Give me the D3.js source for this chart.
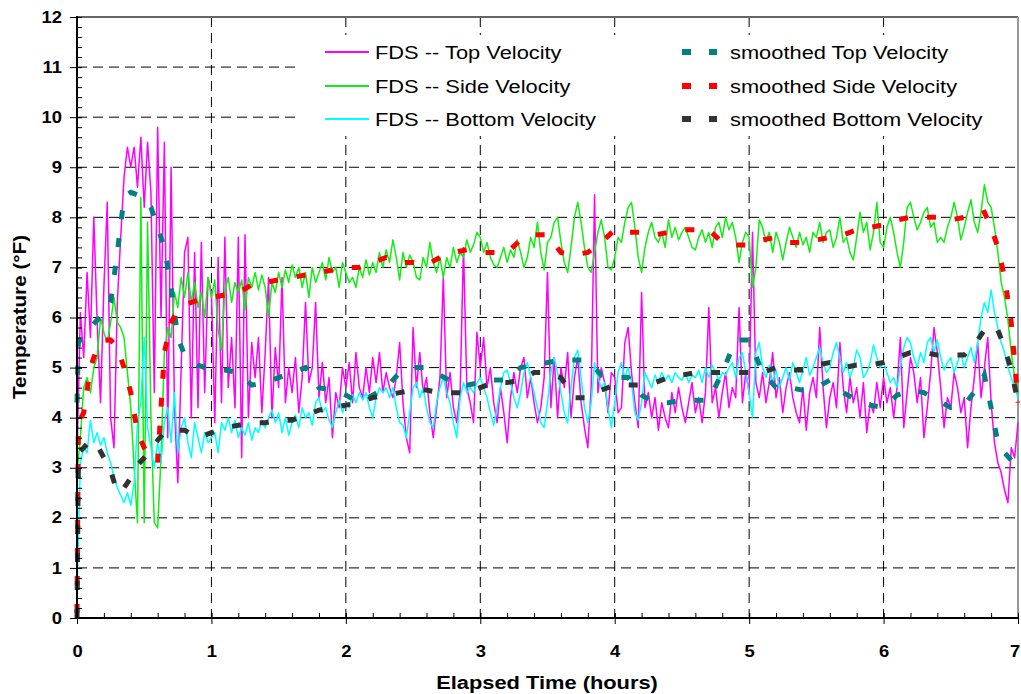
<!DOCTYPE html>
<html>
<head>
<meta charset="utf-8">
<script src="https://cdn.jsdelivr.net/npm/d3@7"></script>
<style>
  body { margin: 0; background: #fff; }
  svg { display: block; font-family: "Liberation Sans", Arial, sans-serif; }
</style>
</head>
<body>
<div id="chart"></div>
<script>
// FDS samples, one every 0.025 h from 0 to 7 h (rows = half hours)
const sampleStep = 0.025;

const topVelocity = [
  3.2, 6.1, 5.2, 6.9, 5.6, 8.0, 5.9, 4.3, 6.6, 8.3, 4.0, 3.4, 6.3, 7.6, 8.8, 9.4, 9.0, 9.4, 8.6, 9.6,
  8.2, 9.5, 8.5, 4.5, 9.8, 6.0, 9.5, 3.6, 9.0, 4.2, 2.7, 5.0, 7.3, 7.6, 4.0, 7.3, 4.2, 7.5, 4.5, 6.8,
  6.5, 3.9, 7.2, 4.3, 7.6, 4.6, 5.6, 4.2, 7.6, 3.2, 7.65, 4.0, 5.5, 4.8, 5.6, 4.1, 5.3, 6.8, 4.0, 5.4,
  4.6, 6.8, 4.3, 5.0, 4.5, 5.2, 4.1, 4.8, 6.3, 4.7, 5.0, 6.3, 4.4, 5.1, 4.3, 4.8, 3.6, 4.5, 4.2, 5.0,
  4.6, 5.1, 4.3, 5.3, 4.6, 4.4, 5.0, 4.5, 5.2, 4.7, 5.3, 4.5, 4.9, 4.6, 4.4, 4.8, 5.5, 4.3, 3.6, 3.3,
  5.8, 4.6, 5.3, 4.5, 4.8, 4.1, 3.6, 4.2, 4.8, 6.8, 4.4, 4.9, 4.2, 3.9, 4.5, 7.4, 4.6, 4.3, 3.9, 5.7,
  5.0, 5.6, 4.6, 5.0, 4.3, 3.9, 4.6, 4.1, 3.5, 4.4, 4.9, 4.5, 5.0, 5.2, 4.4, 4.8, 4.3, 3.9, 4.2, 4.8,
  6.9, 4.2, 5.2, 4.0, 5.0, 4.6, 5.3, 4.0, 4.8, 5.2, 4.3, 3.8, 3.4, 4.6, 8.45, 4.5, 5.0, 4.7, 4.1, 4.9,
  4.8, 4.1, 4.2, 5.5, 5.8, 4.9, 4.3, 3.8, 6.5, 4.2, 4.5, 4.0, 4.4, 3.75, 4.3, 4.0, 3.8, 4.5, 4.1, 4.6,
  4.2, 3.9, 4.3, 4.7, 4.1, 4.4, 3.9, 4.5, 6.2, 4.3, 4.6, 4.0, 4.5, 4.9, 4.2, 4.6, 4.4, 6.2, 4.3, 4.9,
  4.5, 7.7, 4.7, 4.4, 4.9, 4.3, 4.7, 5.3, 4.4, 4.8, 4.1, 4.6, 4.9, 4.4, 4.1, 3.9, 4.6, 3.75, 4.5, 4.8,
  4.4, 5.8, 4.6, 3.8, 4.4, 4.7, 4.2, 5.5, 4.6, 4.1, 4.8, 4.3, 4.6, 4.0, 4.7, 3.7, 4.3, 4.1, 4.7, 4.2,
  4.8, 4.3, 4.6, 4.0, 4.6, 5.6, 3.8, 4.5, 5.2, 4.9, 4.3, 4.8, 3.6, 4.2, 4.9, 5.8, 5.3, 4.6, 3.8, 4.4,
  4.2, 4.9, 4.6, 4.1, 4.4, 3.4, 4.2, 4.8, 5.5, 4.4, 5.0, 5.6, 4.3, 3.5, 3.1, 2.9, 2.55, 2.3, 3.4, 3.2, 3.9
];

const sideVelocity = [
  2.9, 3.6, 4.6, 4.8, 4.5, 5.0, 5.2, 6.0, 5.7, 5.5, 5.9, 6.4, 5.9, 5.8, 5.6, 4.9, 4.2, 3.0, 1.9, 8.4,
  1.9, 7.9, 4.0, 1.9, 1.8, 3.2, 5.3, 5.8, 5.6, 6.5, 6.2, 6.8, 6.4, 6.9, 6.3, 6.7, 6.2, 6.5, 6.0, 6.8,
  6.4, 6.75, 5.75, 5.35, 6.55, 6.8, 6.3, 6.7, 6.5, 6.75, 6.15, 6.8, 6.6, 6.9, 6.55, 6.85, 6.6, 6.0, 6.7, 6.5,
  6.9, 6.6, 6.95, 6.7, 7.05, 6.8, 7.0, 6.6, 6.9, 6.4, 7.0, 6.7, 6.9, 7.1, 6.75, 7.2, 6.9, 7.0, 6.6, 7.1,
  6.9, 6.7, 6.8, 6.6, 7.0, 6.8, 7.15, 6.85, 7.1, 6.9, 7.3, 7.0, 7.35, 7.1, 7.55, 7.2, 6.75, 7.3, 7.0, 7.25,
  7.1, 6.8, 6.75, 7.2, 7.0, 7.5, 7.1, 6.9, 7.2, 6.8, 7.2, 7.0, 7.4, 7.1, 7.3, 7.2, 7.55, 7.3, 7.45, 7.7,
  7.6, 7.3, 7.5, 7.2, 7.05, 7.0, 7.2, 7.4, 7.1, 7.35, 7.2, 7.55, 7.3, 7.0, 7.2, 7.6, 7.4, 7.9, 7.3, 6.95,
  7.5, 7.6, 7.9, 8.0, 7.5, 7.1, 6.9, 7.4, 8.0, 8.3, 7.9, 7.4, 7.0, 6.9, 7.3, 7.7, 7.95, 7.6, 7.0, 6.95,
  7.2, 7.6, 7.5, 7.9, 8.2, 8.3, 7.8, 7.2, 6.9, 7.4, 7.7, 7.9, 7.6, 7.5, 7.7, 7.4, 7.95, 7.6, 7.8, 7.55,
  7.7, 7.8, 7.6, 7.4, 7.35, 7.6, 7.75, 7.5, 7.7, 7.4, 7.8, 7.9, 7.6, 8.0, 7.75, 7.9, 7.6, 7.1, 7.5, 7.7,
  7.6, 6.6, 7.0, 7.95, 7.8, 7.5, 7.7, 7.3, 7.7, 7.5, 7.15, 7.5, 7.8, 7.6, 7.4, 7.7, 7.45, 7.6, 7.3, 7.7,
  7.6, 7.9, 7.5, 7.7, 7.75, 7.4, 7.6, 8.0, 7.5, 7.6, 7.3, 7.15, 7.6, 8.1, 7.7, 7.9, 7.35, 7.7, 8.3, 7.5,
  7.4, 7.8, 8.0, 7.7, 7.3, 7.0, 7.5, 8.2, 8.3, 8.0, 7.75, 7.9, 8.1, 8.2, 7.8, 7.9, 7.5, 7.6, 7.5, 7.8,
  8.0, 8.3, 8.0, 7.55, 7.8, 8.1, 8.35, 7.9, 7.7, 8.1, 8.65, 8.3, 8.2, 7.8, 7.3, 6.7, 6.4, 5.95, 5.3, 4.8, 4.5
];

const bottomVelocity = [
  0.5, 3.1, 3.4, 3.3, 3.95, 3.5, 3.7, 3.45, 3.6, 3.3, 3.1, 2.8, 2.6, 2.45, 2.3, 2.5, 2.25, 2.7, 3.9, 4.3,
  5.6, 3.8, 3.4, 3.0, 3.5, 3.1, 3.9, 4.2, 3.5, 4.5, 3.3, 3.8, 4.0, 3.5, 3.2, 3.9, 3.6, 3.3, 3.7, 3.5,
  3.6, 3.7, 3.3, 3.9, 3.75, 4.0, 3.7, 3.95, 3.6, 3.8, 3.65, 3.9, 3.55, 3.8, 3.7, 3.95, 3.8, 4.0, 4.15, 3.9,
  4.1, 3.7, 4.0, 3.65, 3.9, 4.05, 3.8, 4.2, 4.0, 4.1, 3.85, 4.3, 4.4, 4.1, 4.2, 3.95, 3.8, 4.1, 4.35, 4.1,
  4.3, 4.2, 4.45, 4.3, 4.5, 4.35, 4.5, 4.2, 4.0, 4.4, 4.6, 4.5, 4.6, 4.4, 4.6, 4.2, 3.9, 3.85, 3.6, 4.1,
  4.6, 4.7, 4.4, 4.6, 4.2, 3.9, 3.8, 4.3, 4.6, 4.8, 4.5, 4.3, 3.9, 3.6, 4.4, 4.7, 4.5, 4.6, 4.5, 4.7,
  4.8, 4.6, 4.4, 4.1, 3.85, 4.2, 4.6, 4.9, 4.95, 4.7, 4.4, 4.2, 4.5, 4.9, 5.1, 4.8, 4.5, 4.2, 3.9, 3.8,
  4.3, 4.9, 5.2, 4.9, 4.5, 4.1, 3.9, 4.6, 5.2, 5.35, 4.8, 4.2, 3.9, 4.3, 5.1, 4.8, 4.6, 4.7, 4.2, 3.8,
  4.3, 4.9, 5.1, 4.8, 5.0, 4.7, 4.1, 3.95, 4.3, 4.9, 4.75, 4.6, 4.85, 4.7, 4.9, 4.75, 4.85, 4.7, 4.9, 4.8,
  4.75, 4.9, 4.7, 4.85, 4.8, 4.95, 4.7, 5.0, 4.8, 5.05, 4.9, 4.75, 4.9, 4.85, 5.0, 5.1, 4.8, 5.2, 5.3, 4.9,
  4.5, 4.0, 5.3, 5.5, 5.0, 4.8, 5.05, 4.7, 4.95, 4.6, 4.8, 5.0, 4.75, 5.1, 4.9, 4.7, 4.95, 5.2, 4.85, 5.0,
  5.2, 5.4, 5.1, 4.9, 5.0, 5.3, 5.5, 5.2, 4.9, 5.1, 4.8, 5.0, 5.35, 5.2, 4.8, 4.9, 5.1, 5.45, 5.2, 5.0,
  5.1, 4.9, 4.7, 4.8, 4.6, 5.0, 5.4, 5.6, 5.5, 5.2, 5.0, 5.3, 5.1, 5.5, 5.6, 5.3, 5.55, 5.2, 4.95, 5.1,
  5.2, 4.9, 5.1, 5.3, 5.0, 5.2, 5.4, 5.1, 5.5, 6.0, 6.3, 6.1, 6.55, 6.1, 5.8, 5.5, 5.3, 5.0, 4.8, 4.6, 4.4
];

// smoothed curves
const smoothTimes = [
  0, 0.01, 0.05, 0.1, 0.15, 0.2, 0.25, 0.3, 0.35, 0.4, 0.45, 0.5, 0.55, 0.6, 0.65, 0.7, 0.75, 0.8,
  0.9, 1.0, 1.1, 1.2, 1.3, 1.4, 1.5, 1.6, 1.7, 1.8,
  1.9, 2.0, 2.1, 2.2, 2.3, 2.4, 2.5, 2.6, 2.7, 2.8,
  2.9, 3.0, 3.1, 3.2, 3.3, 3.4, 3.5, 3.6, 3.7, 3.8,
  3.9, 4.0, 4.1, 4.2, 4.3, 4.4, 4.5, 4.6, 4.7, 4.8,
  4.9, 5.0, 5.1, 5.2, 5.3, 5.4, 5.5, 5.6, 5.7, 5.8,
  5.9, 6.0, 6.1, 6.2, 6.3, 6.4, 6.5, 6.6, 6.7,
  6.75, 6.8, 6.85, 6.9, 6.95, 7.0
];
const smoothTop = [
  4.3, 5.5, 5.65, 5.8, 5.95, 6.05, 6.3, 7.3, 8.4, 8.5, 8.45, 8.3, 8.2, 7.8, 7.4, 6.6, 5.6, 5.25,
  5.05, 4.95, 4.95, 4.9, 4.65, 4.7, 4.8, 4.9, 5.0, 4.6,
  4.55, 4.45, 4.3, 4.45, 4.6, 4.9, 5.0, 5.0, 4.85, 4.7,
  4.65, 4.7, 4.75, 4.75, 5.0, 5.05, 5.1, 5.15, 5.15, 5.15,
  4.85, 4.8, 4.8, 4.45, 4.3, 4.3, 4.35, 4.35, 4.35, 4.9,
  5.55, 5.55, 4.9, 4.6, 4.6, 4.55, 4.6, 4.75, 4.5, 4.35,
  4.25, 4.2, 4.45, 4.55, 4.5, 4.35, 4.2, 4.25, 4.6,
  4.85, 4.2, 3.5, 3.3, 3.15, 3.05
];
const smoothSide = [
  0.1, 3.9, 4.1, 5.0, 5.4, 5.55, 5.55, 5.4, 5.0, 4.5, 3.7, 3.4, 3.2, 3.1, 5.3, 5.9, 6.15, 6.25,
  6.35, 6.4, 6.45, 6.5, 6.65, 6.7, 6.75, 6.8, 6.85, 6.9,
  6.95, 7.0, 7.0, 7.1, 7.2, 7.1, 7.1, 7.05, 7.2, 7.3,
  7.35, 7.3, 7.3, 7.3, 7.55, 7.65, 7.65, 7.3, 7.25, 7.3,
  7.5, 7.75, 7.7, 7.7, 7.65, 7.7, 7.75, 7.75, 7.75, 7.5,
  7.45, 7.45, 7.55, 7.6, 7.5, 7.5, 7.55, 7.6, 7.65, 7.75,
  7.8, 7.85, 7.95, 8.0, 8.0, 8.0, 7.95, 8.0, 8.05,
  8.1, 7.8, 7.4, 6.8, 5.9, 4.3
];
const smoothBottom = [
  0.0, 3.3, 3.4, 3.55, 3.45, 3.2, 2.95, 2.5, 2.6, 2.8, 3.05, 3.2, 3.35, 3.55, 3.7, 3.75, 3.75, 3.75,
  3.6, 3.7, 3.8, 3.85, 3.9, 3.9, 3.95, 3.95, 4.05, 4.15,
  4.2, 4.25, 4.3, 4.4, 4.45, 4.5, 4.55, 4.55, 4.5, 4.5,
  4.5, 4.6, 4.7, 4.7, 4.75, 4.9, 4.9, 4.8, 4.4, 4.4,
  4.55, 4.65, 4.65, 4.65, 4.7, 4.8, 4.85, 4.9, 4.9, 4.9,
  4.9, 4.9, 4.9, 5.0, 4.95, 4.95, 5.05, 5.1, 5.0, 5.05,
  5.05, 5.1, 5.2, 5.3, 5.3, 5.25, 5.25, 5.25, 5.55,
  5.75, 5.85, 5.75, 5.4, 4.95, 4.3
];

const xTicks = [0, 1, 2, 3, 4, 5, 6, 7];
const yTicks = [0, 1, 2, 3, 4, 5, 6, 7, 8, 9, 10, 11, 12];

const rawSeries = [
  { name: "FDS -- Top Velocity", values: topVelocity, color: "#ff00ff" },
  { name: "FDS -- Side Velocity", values: sideVelocity, color: "#11ee11" },
  { name: "FDS -- Bottom Velocity", values: bottomVelocity, color: "#00ffff" }
];
const smoothSeries = [
  { name: "smoothed Top Velocity", values: smoothTop, color: "#008080" },
  { name: "smoothed Side Velocity", values: smoothSide, color: "#ff0000" },
  { name: "smoothed Bottom Velocity", values: smoothBottom, color: "#333333" }
];

var width = 1021, height = 694;
var plotL = 77, plotR = 1018, plotT = 17, plotB = 618;
var stretch = 1.15; // the original text is drawn a bit wide
var smoothDash = "9,19";

var svg = d3.select("#chart").append("svg")
  .attr("width", width).attr("height", height);

var x = d3.scaleLinear().domain([0, 7]).range([plotL, plotR]);
var y = d3.scaleLinear().domain([0, 12]).range([plotB, plotT]);

// dashed grid
var grid = svg.append("g");
grid.selectAll(".hg").data(yTicks.filter(d => d > 0 && d < 12)).enter().append("line")
  .attr("x1", plotL).attr("x2", plotR)
  .attr("y1", d => y(d)).attr("y2", d => y(d))
  .attr("stroke", "#000").attr("stroke-width", 1).attr("stroke-dasharray", "10,6");
grid.selectAll(".vg").data(xTicks.filter(d => d > 0 && d < 7)).enter().append("line")
  .attr("x1", d => x(d)).attr("x2", d => x(d))
  .attr("y1", plotT).attr("y2", plotB)
  .attr("stroke", "#000").attr("stroke-width", 1).attr("stroke-dasharray", "10,6");

// frame (top and right)
svg.append("line").attr("x1", plotL).attr("x2", plotR).attr("y1", plotT).attr("y2", plotT)
  .attr("stroke", "#666").attr("stroke-width", 2);
svg.append("line").attr("x1", plotR).attr("x2", plotR).attr("y1", plotT).attr("y2", plotB)
  .attr("stroke", "#999").attr("stroke-width", 2);

// legend background hides the grid behind it
svg.append("rect").attr("x", 300).attr("y", 35).attr("width", 716).attr("height", 101)
  .attr("fill", "#fff");

// raw FDS lines
var rawLine = d3.line()
  .x((d, i) => x(i * sampleStep))
  .y(d => y(d));
svg.append("g").selectAll("path").data(rawSeries).enter().append("path")
  .attr("d", d => rawLine(d.values))
  .attr("fill", "none")
  .attr("stroke", d => d.color)
  .attr("stroke-width", 1.5)
  .attr("stroke-linejoin", "round");

// smoothed lines, thick dashes
var smoothLine = d3.line()
  .x((d, i) => x(smoothTimes[i]))
  .y(d => y(d));
svg.append("g").selectAll("path").data(smoothSeries).enter().append("path")
  .attr("d", d => smoothLine(d.values))
  .attr("fill", "none")
  .attr("stroke", d => d.color)
  .attr("stroke-width", 5)
  .attr("stroke-dasharray", smoothDash);

// axes
var yMinor = d3.range(0, 12.001, 0.2);
var xMinor = d3.range(0, 7.001, 0.2);

svg.append("g").attr("transform", "translate(" + plotL + ",0)")
  .call(d3.axisLeft(y).tickValues(yMinor).tickSize(-5).tickFormat(""))
  .call(g => g.select(".domain").remove());
svg.append("g").attr("transform", "translate(" + plotL + ",0)")
  .call(d3.axisLeft(y).tickValues(yTicks).tickSize(7).tickSizeOuter(0).tickPadding(13).tickFormat(d3.format("d")))
  .call(g => g.select(".domain").remove())
  .call(g => g.selectAll(".tick line").attr("x2", -7).attr("x1", 5).attr("stroke", "#000"))
  .call(g => g.selectAll(".tick text")
    .attr("x", -13)
    .attr("transform", "scale(" + stretch + ",1)")
    .attr("font-size", 16).attr("font-weight", "bold").attr("fill", "#000")
    .attr("font-family", "Liberation Sans, Arial, sans-serif"));

svg.append("g").attr("transform", "translate(0," + plotB + ")")
  .call(d3.axisBottom(x).tickValues(xMinor).tickSize(-5).tickFormat(""))
  .call(g => g.select(".domain").remove());
svg.append("g").attr("transform", "translate(0," + plotB + ")")
  .call(d3.axisBottom(x).tickValues(xTicks).tickSize(6).tickSizeOuter(0).tickPadding(22).tickFormat(d3.format("d")))
  .call(g => g.select(".domain").remove())
  .call(g => g.selectAll(".tick line").attr("y1", -5).attr("stroke", "#000"))
  .call(g => g.selectAll(".tick text")
    .attr("x", d => d === 7 ? -3 : 0)
    .attr("transform", "scale(" + stretch + ",1)")
    .attr("font-size", 16).attr("font-weight", "bold").attr("fill", "#000")
    .attr("font-family", "Liberation Sans, Arial, sans-serif"));

svg.append("line").attr("x1", plotL).attr("x2", plotL).attr("y1", plotT - 1).attr("y2", plotB + 1)
  .attr("stroke", "#000").attr("stroke-width", 2);
svg.append("line").attr("x1", plotL - 1).attr("x2", plotR).attr("y1", plotB).attr("y2", plotB)
  .attr("stroke", "#000").attr("stroke-width", 2);

// axis titles
svg.append("text")
  .attr("transform", "translate(547,689) scale(" + stretch + ",1)")
  .attr("text-anchor", "middle")
  .attr("font-size", 19).attr("font-weight", "bold")
  .text("Elapsed Time (hours)");
svg.append("text")
  .attr("transform", "translate(26,317) rotate(-90) scale(" + stretch + ",1)")
  .attr("text-anchor", "middle")
  .attr("font-size", 18).attr("font-weight", "bold")
  .text("Temperature (°F)");

// legend
var rowY = [52, 86, 119];
var leg = svg.append("g");
rawSeries.forEach(function (s, i) {
  leg.append("line").attr("x1", 325).attr("x2", 369).attr("y1", rowY[i]).attr("y2", rowY[i])
    .attr("stroke", s.color).attr("stroke-width", 2);
  leg.append("text")
    .attr("transform", "translate(375," + (rowY[i] + 7) + ") scale(" + stretch + ",1)")
    .attr("font-size", 19)
    .text(s.name);
});
smoothSeries.forEach(function (s, i) {
  leg.append("line").attr("x1", 682).attr("x2", 717).attr("y1", rowY[i]).attr("y2", rowY[i])
    .attr("stroke", s.color).attr("stroke-width", 6).attr("stroke-dasharray", "9,18");
  leg.append("text")
    .attr("transform", "translate(730," + (rowY[i] + 7) + ") scale(" + stretch + ",1)")
    .attr("font-size", 19)
    .text(s.name);
});
</script>
</body>
</html>
